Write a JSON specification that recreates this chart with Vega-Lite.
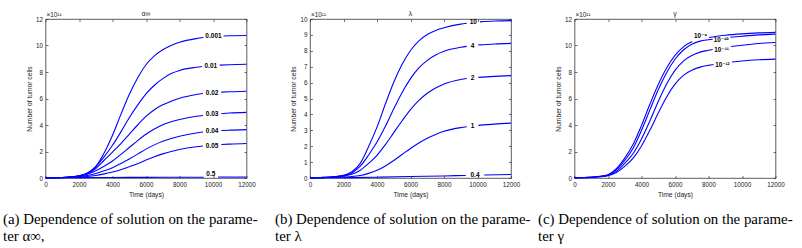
{
  "$schema": "https://vega.github.io/schema/vega-lite/v6.json",
  "background": "white",
  "padding": {"left": 2.5, "top": 9, "right": 0, "bottom": 0},
  "spacing": 63.5,
  "bounds": "flush",
  "config": {
    "view": {"stroke": "#333", "strokeWidth": 0.8},
    "axis": {
      "labelFont": "Liberation Sans", "labelFontSize": 6.3, "labelColor": "#222",
      "titleFont": "Liberation Sans", "titleFontSize": 6.7, "titleFontWeight": "normal", "titleColor": "#222",
      "domain": false, "tickColor": "#333", "tickSize": -2.5, "tickWidth": 0.7, "grid": false,
      "labelPadding": 5.5, "titlePadding": 3, "labelFlush": false, "labelOverlap": false
    },
    "axisBottom": {"titlePadding": 4.5},
    "text": {"font": "Liberation Sans"}
  },
  "datasets": {
    "one": [{"o": 1}],
    "A": [
      {"k":"0.001a","t":0,"n":0.02},{"k":"0.001a","t":1000,"n":0.04},{"k":"0.001a","t":1500,"n":0.08},{"k":"0.001a","t":2000,"n":0.15},{"k":"0.001a","t":2500,"n":0.34},{"k":"0.001a","t":3000,"n":0.86},{"k":"0.001a","t":3500,"n":1.88},{"k":"0.001a","t":4000,"n":3.22},{"k":"0.001a","t":4500,"n":4.8},{"k":"0.001a","t":5000,"n":6.3},{"k":"0.001a","t":5500,"n":7.55},{"k":"0.001a","t":6000,"n":8.55},{"k":"0.001a","t":6500,"n":9.22},{"k":"0.001a","t":7000,"n":9.68},{"k":"0.001a","t":7500,"n":10.0},{"k":"0.001a","t":8000,"n":10.24},{"k":"0.001a","t":9000,"n":10.52},{"k":"0.001a","t":9430,"n":10.6},
      {"k":"0.001b","t":10630,"n":10.72},{"k":"0.001b","t":11000,"n":10.74},{"k":"0.001b","t":12000,"n":10.76},
      {"k":"0.01a","t":0,"n":0.02},{"k":"0.01a","t":1000,"n":0.04},{"k":"0.01a","t":1500,"n":0.08},{"k":"0.01a","t":2000,"n":0.16},{"k":"0.01a","t":2500,"n":0.38},{"k":"0.01a","t":3000,"n":0.85},{"k":"0.01a","t":3500,"n":1.6},{"k":"0.01a","t":4000,"n":2.47},{"k":"0.01a","t":4500,"n":3.48},{"k":"0.01a","t":5000,"n":4.55},{"k":"0.01a","t":5500,"n":5.5},{"k":"0.01a","t":6000,"n":6.35},{"k":"0.01a","t":6500,"n":7.0},{"k":"0.01a","t":7000,"n":7.5},{"k":"0.01a","t":7500,"n":7.88},{"k":"0.01a","t":8000,"n":8.12},{"k":"0.01a","t":9000,"n":8.36},{"k":"0.01a","t":9350,"n":8.42},
      {"k":"0.01b","t":10400,"n":8.52},{"k":"0.01b","t":11000,"n":8.55},{"k":"0.01b","t":12000,"n":8.58},
      {"k":"0.02a","t":0,"n":0.02},{"k":"0.02a","t":1000,"n":0.04},{"k":"0.02a","t":1500,"n":0.08},{"k":"0.02a","t":2000,"n":0.16},{"k":"0.02a","t":2500,"n":0.34},{"k":"0.02a","t":3000,"n":0.72},{"k":"0.02a","t":3500,"n":1.34},{"k":"0.02a","t":4000,"n":1.96},{"k":"0.02a","t":4500,"n":2.6},{"k":"0.02a","t":5000,"n":3.3},{"k":"0.02a","t":5500,"n":4.0},{"k":"0.02a","t":6000,"n":4.65},{"k":"0.02a","t":6500,"n":5.15},{"k":"0.02a","t":7000,"n":5.52},{"k":"0.02a","t":7500,"n":5.8},{"k":"0.02a","t":8000,"n":6.02},{"k":"0.02a","t":9000,"n":6.3},{"k":"0.02a","t":9400,"n":6.38},
      {"k":"0.02b","t":10500,"n":6.48},{"k":"0.02b","t":11000,"n":6.51},{"k":"0.02b","t":12000,"n":6.55},
      {"k":"0.03a","t":0,"n":0.02},{"k":"0.03a","t":1000,"n":0.04},{"k":"0.03a","t":1500,"n":0.07},{"k":"0.03a","t":2000,"n":0.14},{"k":"0.03a","t":2500,"n":0.28},{"k":"0.03a","t":3000,"n":0.54},{"k":"0.03a","t":3500,"n":0.89},{"k":"0.03a","t":4000,"n":1.28},{"k":"0.03a","t":4500,"n":1.78},{"k":"0.03a","t":5000,"n":2.3},{"k":"0.03a","t":5500,"n":2.82},{"k":"0.03a","t":6000,"n":3.3},{"k":"0.03a","t":6500,"n":3.7},{"k":"0.03a","t":7000,"n":4.02},{"k":"0.03a","t":7500,"n":4.25},{"k":"0.03a","t":8000,"n":4.42},{"k":"0.03a","t":9000,"n":4.66},{"k":"0.03a","t":9400,"n":4.72},
      {"k":"0.03b","t":10500,"n":4.85},{"k":"0.03b","t":11000,"n":4.9},{"k":"0.03b","t":12000,"n":4.95},
      {"k":"0.04a","t":0,"n":0.02},{"k":"0.04a","t":1000,"n":0.03},{"k":"0.04a","t":1500,"n":0.06},{"k":"0.04a","t":2000,"n":0.11},{"k":"0.04a","t":2500,"n":0.19},{"k":"0.04a","t":3000,"n":0.34},{"k":"0.04a","t":3500,"n":0.54},{"k":"0.04a","t":4000,"n":0.78},{"k":"0.04a","t":4500,"n":1.09},{"k":"0.04a","t":5000,"n":1.44},{"k":"0.04a","t":5500,"n":1.8},{"k":"0.04a","t":6000,"n":2.18},{"k":"0.04a","t":6500,"n":2.5},{"k":"0.04a","t":7000,"n":2.77},{"k":"0.04a","t":7500,"n":2.98},{"k":"0.04a","t":8000,"n":3.15},{"k":"0.04a","t":9000,"n":3.4},{"k":"0.04a","t":9400,"n":3.47},
      {"k":"0.04b","t":10500,"n":3.58},{"k":"0.04b","t":11000,"n":3.61},{"k":"0.04b","t":12000,"n":3.65},
      {"k":"0.05a","t":0,"n":0.02},{"k":"0.05a","t":1000,"n":0.03},{"k":"0.05a","t":1500,"n":0.05},{"k":"0.05a","t":2000,"n":0.07},{"k":"0.05a","t":2500,"n":0.11},{"k":"0.05a","t":3000,"n":0.19},{"k":"0.05a","t":3500,"n":0.31},{"k":"0.05a","t":4000,"n":0.45},{"k":"0.05a","t":4500,"n":0.63},{"k":"0.05a","t":5000,"n":0.85},{"k":"0.05a","t":5500,"n":1.08},{"k":"0.05a","t":6000,"n":1.35},{"k":"0.05a","t":6500,"n":1.6},{"k":"0.05a","t":7000,"n":1.82},{"k":"0.05a","t":7500,"n":2.0},{"k":"0.05a","t":8000,"n":2.15},{"k":"0.05a","t":9000,"n":2.36},{"k":"0.05a","t":9400,"n":2.42},
      {"k":"0.05b","t":10500,"n":2.53},{"k":"0.05b","t":11000,"n":2.56},{"k":"0.05b","t":12000,"n":2.6},
      {"k":"0.5a","t":0,"n":0.02},{"k":"0.5a","t":2000,"n":0.03},{"k":"0.5a","t":4000,"n":0.04},{"k":"0.5a","t":6000,"n":0.05},{"k":"0.5a","t":8000,"n":0.06},{"k":"0.5a","t":9450,"n":0.06},
      {"k":"0.5b","t":10300,"n":0.07},{"k":"0.5b","t":12000,"n":0.07}
    ],
    "LA": [
      {"s":"0.001","t":10030,"n":10.71},{"s":"0.01","t":9870,"n":8.47},{"s":"0.02","t":9950,"n":6.45},{"s":"0.03","t":9950,"n":4.8},{"s":"0.04","t":9950,"n":3.55},{"s":"0.05","t":9950,"n":2.45},{"s":"0.5","t":9870,"n":0.3}
    ],
    "B": [
      {"k":"10a","t":0,"n":0.02},{"k":"10a","t":1000,"n":0.04},{"k":"10a","t":1500,"n":0.09},{"k":"10a","t":2000,"n":0.17},{"k":"10a","t":2500,"n":0.39},{"k":"10a","t":3000,"n":0.92},{"k":"10a","t":3500,"n":1.98},{"k":"10a","t":4000,"n":3.2},{"k":"10a","t":4500,"n":4.65},{"k":"10a","t":5000,"n":6.02},{"k":"10a","t":5500,"n":7.15},{"k":"10a","t":6000,"n":8.02},{"k":"10a","t":6500,"n":8.62},{"k":"10a","t":7000,"n":9.02},{"k":"10a","t":7500,"n":9.28},{"k":"10a","t":8000,"n":9.45},{"k":"10a","t":9000,"n":9.68},{"k":"10a","t":9360,"n":9.73},
      {"k":"10b","t":10150,"n":9.82},{"k":"10b","t":11000,"n":9.87},{"k":"10b","t":12000,"n":9.9},
      {"k":"4a","t":0,"n":0.02},{"k":"4a","t":1000,"n":0.04},{"k":"4a","t":1500,"n":0.08},{"k":"4a","t":2000,"n":0.15},{"k":"4a","t":2500,"n":0.32},{"k":"4a","t":3000,"n":0.74},{"k":"4a","t":3500,"n":1.45},{"k":"4a","t":4000,"n":2.26},{"k":"4a","t":4500,"n":3.25},{"k":"4a","t":5000,"n":4.35},{"k":"4a","t":5500,"n":5.38},{"k":"4a","t":6000,"n":6.25},{"k":"4a","t":6500,"n":6.92},{"k":"4a","t":7000,"n":7.4},{"k":"4a","t":7500,"n":7.74},{"k":"4a","t":8000,"n":7.97},{"k":"4a","t":9000,"n":8.22},{"k":"4a","t":9360,"n":8.28},
      {"k":"4b","t":10050,"n":8.37},{"k":"4b","t":11000,"n":8.43},{"k":"4b","t":12000,"n":8.47},
      {"k":"2a","t":0,"n":0.02},{"k":"2a","t":1000,"n":0.04},{"k":"2a","t":1500,"n":0.07},{"k":"2a","t":2000,"n":0.12},{"k":"2a","t":2500,"n":0.23},{"k":"2a","t":3000,"n":0.49},{"k":"2a","t":3500,"n":0.92},{"k":"2a","t":4000,"n":1.43},{"k":"2a","t":4500,"n":2.1},{"k":"2a","t":5000,"n":2.85},{"k":"2a","t":5500,"n":3.6},{"k":"2a","t":6000,"n":4.3},{"k":"2a","t":6500,"n":4.88},{"k":"2a","t":7000,"n":5.33},{"k":"2a","t":7500,"n":5.66},{"k":"2a","t":8000,"n":5.91},{"k":"2a","t":9000,"n":6.2},{"k":"2a","t":9360,"n":6.26},
      {"k":"2b","t":10050,"n":6.33},{"k":"2b","t":11000,"n":6.39},{"k":"2b","t":12000,"n":6.44},
      {"k":"1a","t":0,"n":0.02},{"k":"1a","t":1000,"n":0.03},{"k":"1a","t":1500,"n":0.04},{"k":"1a","t":2000,"n":0.06},{"k":"1a","t":2500,"n":0.09},{"k":"1a","t":3000,"n":0.16},{"k":"1a","t":3500,"n":0.29},{"k":"1a","t":4000,"n":0.48},{"k":"1a","t":4500,"n":0.76},{"k":"1a","t":5000,"n":1.1},{"k":"1a","t":5500,"n":1.48},{"k":"1a","t":6000,"n":1.86},{"k":"1a","t":6500,"n":2.2},{"k":"1a","t":7000,"n":2.5},{"k":"1a","t":7500,"n":2.74},{"k":"1a","t":8000,"n":2.94},{"k":"1a","t":9000,"n":3.17},{"k":"1a","t":9360,"n":3.22},
      {"k":"1b","t":10050,"n":3.31},{"k":"1b","t":11000,"n":3.39},{"k":"1b","t":12000,"n":3.45},
      {"k":"0.4a","t":0,"n":0.01},{"k":"0.4a","t":2000,"n":0.02},{"k":"0.4a","t":4000,"n":0.05},{"k":"0.4a","t":6000,"n":0.09},{"k":"0.4a","t":8000,"n":0.13},{"k":"0.4a","t":9300,"n":0.16},
      {"k":"0.4b","t":10400,"n":0.19},{"k":"0.4b","t":12000,"n":0.22}
    ],
    "LB": [
      {"s":"10","t":9750,"n":9.78},{"s":"4","t":9700,"n":8.32},{"s":"2","t":9700,"n":6.28},{"s":"1","t":9700,"n":3.28},{"s":"0.4","t":9850,"n":0.18}
    ],
    "C": [
      {"k":"9a","t":0,"n":0.03},{"k":"9a","t":1000,"n":0.06},{"k":"9a","t":1500,"n":0.12},{"k":"9a","t":2000,"n":0.25},{"k":"9a","t":2500,"n":0.7},{"k":"9a","t":3000,"n":1.5},{"k":"9a","t":3500,"n":2.55},{"k":"9a","t":4000,"n":3.97},{"k":"9a","t":4500,"n":5.56},{"k":"9a","t":5000,"n":7.05},{"k":"9a","t":5500,"n":8.3},{"k":"9a","t":6000,"n":9.25},{"k":"9a","t":6500,"n":9.9},{"k":"9a","t":7030,"n":10.3},
      {"k":"9b","t":8030,"n":10.6},{"k":"9b","t":9000,"n":10.77},{"k":"9b","t":10000,"n":10.88},{"k":"9b","t":11000,"n":10.95},{"k":"9b","t":12000,"n":10.99},
      {"k":"10a","t":0,"n":0.03},{"k":"10a","t":1000,"n":0.06},{"k":"10a","t":1500,"n":0.11},{"k":"10a","t":2000,"n":0.23},{"k":"10a","t":2500,"n":0.62},{"k":"10a","t":3000,"n":1.32},{"k":"10a","t":3500,"n":2.25},{"k":"10a","t":4000,"n":3.6},{"k":"10a","t":4500,"n":5.14},{"k":"10a","t":5000,"n":6.66},{"k":"10a","t":5500,"n":7.95},{"k":"10a","t":6000,"n":8.96},{"k":"10a","t":6500,"n":9.66},{"k":"10a","t":7000,"n":10.1},{"k":"10a","t":7500,"n":10.33},{"k":"10a","t":8000,"n":10.43},{"k":"10a","t":8250,"n":10.47},
      {"k":"10b","t":9300,"n":10.62},{"k":"10b","t":10000,"n":10.7},{"k":"10b","t":11000,"n":10.8},{"k":"10b","t":12000,"n":10.86},
      {"k":"11a","t":0,"n":0.03},{"k":"11a","t":1000,"n":0.05},{"k":"11a","t":1500,"n":0.1},{"k":"11a","t":2000,"n":0.2},{"k":"11a","t":2500,"n":0.5},{"k":"11a","t":3000,"n":1.1},{"k":"11a","t":3500,"n":1.85},{"k":"11a","t":4000,"n":2.95},{"k":"11a","t":4500,"n":4.3},{"k":"11a","t":5000,"n":5.78},{"k":"11a","t":5500,"n":7.1},{"k":"11a","t":6000,"n":8.12},{"k":"11a","t":6500,"n":8.82},{"k":"11a","t":7000,"n":9.24},{"k":"11a","t":7500,"n":9.5},{"k":"11a","t":8000,"n":9.64},{"k":"11a","t":8250,"n":9.7},
      {"k":"11b","t":9350,"n":9.92},{"k":"11b","t":10000,"n":10.02},{"k":"11b","t":11000,"n":10.15},{"k":"11b","t":12000,"n":10.23},
      {"k":"12a","t":0,"n":0.03},{"k":"12a","t":1000,"n":0.05},{"k":"12a","t":1500,"n":0.09},{"k":"12a","t":2000,"n":0.18},{"k":"12a","t":2500,"n":0.42},{"k":"12a","t":3000,"n":0.88},{"k":"12a","t":3500,"n":1.5},{"k":"12a","t":4000,"n":2.42},{"k":"12a","t":4500,"n":3.6},{"k":"12a","t":5000,"n":4.9},{"k":"12a","t":5500,"n":6.12},{"k":"12a","t":6000,"n":7.08},{"k":"12a","t":6500,"n":7.75},{"k":"12a","t":7000,"n":8.14},{"k":"12a","t":7500,"n":8.37},{"k":"12a","t":8000,"n":8.5},{"k":"12a","t":8300,"n":8.56},
      {"k":"12b","t":9400,"n":8.75},{"k":"12b","t":10000,"n":8.83},{"k":"12b","t":11000,"n":8.92},{"k":"12b","t":12000,"n":8.97}
    ],
    "LC": [
      {"s":"10⁻⁹","t":7530,"n":10.72},{"s":"10⁻¹⁰","t":8760,"n":10.45},{"s":"10⁻¹¹","t":8780,"n":9.68},{"s":"10⁻¹²","t":8830,"n":8.55}
    ]
  },
  "hconcat": [
    {
      "width": 201, "height": 159,
      "title": {"text": ["(a) Dependence of solution on the parame-", "ter α∞,"], "orient": "bottom", "anchor": "start", "frame": "group", "dx": -42.5, "offset": 13.5, "font": "Liberation Serif", "fontSize": 14.9, "fontWeight": "normal", "color": "#000", "lineHeight": 17},
      "layer": [
        {
          "data": {"name": "A"},
          "mark": {"type": "line", "color": "#0000ff", "strokeWidth": 1.1, "interpolate": "monotone"},
          "encoding": {
            "x": {"field": "t", "type": "quantitative", "scale": {"domain": [0, 12000], "nice": false}, "axis": {"orient": "bottom", "values": [0, 2000, 4000, 6000, 8000, 10000, 12000], "format": "d", "title": "Time (days)"}},
            "y": {"field": "n", "type": "quantitative", "scale": {"domain": [0, 12], "nice": false}, "axis": {"orient": "left", "values": [0, 2, 4, 6, 8, 10, 12], "format": "d", "title": "Number of tumor cells"}},
            "detail": {"field": "k"}
          }
        },
        {
          "data": {"name": "LA"},
          "mark": {"type": "text", "fontSize": 6.5, "fontWeight": "bold", "color": "#000"},
          "encoding": {
            "x": {"field": "t", "type": "quantitative", "axis": {"orient": "top", "values": [0, 2000, 4000, 6000, 8000, 10000, 12000], "labels": false, "title": null}},
            "y": {"field": "n", "type": "quantitative", "axis": {"orient": "right", "values": [0, 2, 4, 6, 8, 10, 12], "labels": false, "title": null}},
            "text": {"field": "s"}
          }
        },
        {
          "data": {"name": "one"},
          "mark": {"type": "text", "align": "left", "baseline": "bottom", "dy": -1, "dx": 1, "fontSize": 6.4, "color": "#222"},
          "encoding": {"x": {"datum": 0, "type": "quantitative", "axis": null}, "y": {"datum": 12, "type": "quantitative", "axis": null}, "text": {"value": "×10¹¹"}}
        },
        {
          "data": {"name": "one"},
          "mark": {"type": "text", "align": "center", "baseline": "bottom", "dy": -2, "fontSize": 7, "color": "#222"},
          "encoding": {"x": {"datum": 6000, "type": "quantitative", "axis": null}, "y": {"datum": 12, "type": "quantitative", "axis": null}, "text": {"value": "α∞"}}
        }
      ],
      "resolve": {"axis": {"x": "independent", "y": "independent"}}
    },
    {
      "width": 201, "height": 159,
      "title": {"text": ["(b) Dependence of solution on the parame-", "ter λ"], "orient": "bottom", "anchor": "start", "frame": "group", "dx": -35, "offset": 13.5, "font": "Liberation Serif", "fontSize": 14.9, "fontWeight": "normal", "color": "#000", "lineHeight": 17},
      "layer": [
        {
          "data": {"name": "B"},
          "mark": {"type": "line", "color": "#0000ff", "strokeWidth": 1.1, "interpolate": "monotone"},
          "encoding": {
            "x": {"field": "t", "type": "quantitative", "scale": {"domain": [0, 12000], "nice": false}, "axis": {"orient": "bottom", "values": [0, 2000, 4000, 6000, 8000, 10000, 12000], "format": "d", "title": "Time (days)"}},
            "y": {"field": "n", "type": "quantitative", "scale": {"domain": [0, 10], "nice": false}, "axis": {"orient": "left", "values": [0, 1, 2, 3, 4, 5, 6, 7, 8, 9, 10], "format": "d", "title": "Number of tumor cells"}},
            "detail": {"field": "k"}
          }
        },
        {
          "data": {"name": "LB"},
          "mark": {"type": "text", "fontSize": 6.5, "fontWeight": "bold", "color": "#000"},
          "encoding": {
            "x": {"field": "t", "type": "quantitative", "axis": {"orient": "top", "values": [0, 2000, 4000, 6000, 8000, 10000, 12000], "labels": false, "title": null}},
            "y": {"field": "n", "type": "quantitative", "axis": {"orient": "right", "values": [0, 1, 2, 3, 4, 5, 6, 7, 8, 9, 10], "labels": false, "title": null}},
            "text": {"field": "s"}
          }
        },
        {
          "data": {"name": "one"},
          "mark": {"type": "text", "align": "left", "baseline": "bottom", "dy": -1, "dx": 1, "fontSize": 6.4, "color": "#222"},
          "encoding": {"x": {"datum": 0, "type": "quantitative", "axis": null}, "y": {"datum": 10, "type": "quantitative", "axis": null}, "text": {"value": "×10¹¹"}}
        },
        {
          "data": {"name": "one"},
          "mark": {"type": "text", "align": "center", "baseline": "bottom", "dy": -2, "fontSize": 7, "color": "#222"},
          "encoding": {"x": {"datum": 6000, "type": "quantitative", "axis": null}, "y": {"datum": 10, "type": "quantitative", "axis": null}, "text": {"value": "λ"}}
        }
      ],
      "resolve": {"axis": {"x": "independent", "y": "independent"}}
    },
    {
      "width": 201, "height": 159,
      "title": {"text": ["(c) Dependence of solution on the parame-", "ter γ"], "orient": "bottom", "anchor": "start", "frame": "group", "dx": -36.5, "offset": 13.5, "font": "Liberation Serif", "fontSize": 14.9, "fontWeight": "normal", "color": "#000", "lineHeight": 17},
      "layer": [
        {
          "data": {"name": "C"},
          "mark": {"type": "line", "color": "#0000ff", "strokeWidth": 1.1, "interpolate": "monotone"},
          "encoding": {
            "x": {"field": "t", "type": "quantitative", "scale": {"domain": [0, 12000], "nice": false}, "axis": {"orient": "bottom", "values": [0, 2000, 4000, 6000, 8000, 10000, 12000], "format": "d", "title": "Time (days)"}},
            "y": {"field": "n", "type": "quantitative", "scale": {"domain": [0, 12], "nice": false}, "axis": {"orient": "left", "values": [0, 2, 4, 6, 8, 10, 12], "format": "d", "title": "Number of tumor cells"}},
            "detail": {"field": "k"}
          }
        },
        {
          "data": {"name": "LC"},
          "mark": {"type": "text", "fontSize": 6.3, "fontWeight": "bold", "color": "#000", "font": "Liberation Sans, DejaVu Sans"},
          "encoding": {
            "x": {"field": "t", "type": "quantitative", "axis": {"orient": "top", "values": [0, 2000, 4000, 6000, 8000, 10000, 12000], "labels": false, "title": null}},
            "y": {"field": "n", "type": "quantitative", "axis": {"orient": "right", "values": [0, 2, 4, 6, 8, 10, 12], "labels": false, "title": null}},
            "text": {"field": "s"}
          }
        },
        {
          "data": {"name": "one"},
          "mark": {"type": "text", "align": "left", "baseline": "bottom", "dy": -1, "dx": 1, "fontSize": 6.4, "color": "#222"},
          "encoding": {"x": {"datum": 0, "type": "quantitative", "axis": null}, "y": {"datum": 12, "type": "quantitative", "axis": null}, "text": {"value": "×10¹¹"}}
        },
        {
          "data": {"name": "one"},
          "mark": {"type": "text", "align": "center", "baseline": "bottom", "dy": -2, "fontSize": 7, "color": "#222"},
          "encoding": {"x": {"datum": 6000, "type": "quantitative", "axis": null}, "y": {"datum": 12, "type": "quantitative", "axis": null}, "text": {"value": "γ"}}
        }
      ],
      "resolve": {"axis": {"x": "independent", "y": "independent"}}
    }
  ]
}
